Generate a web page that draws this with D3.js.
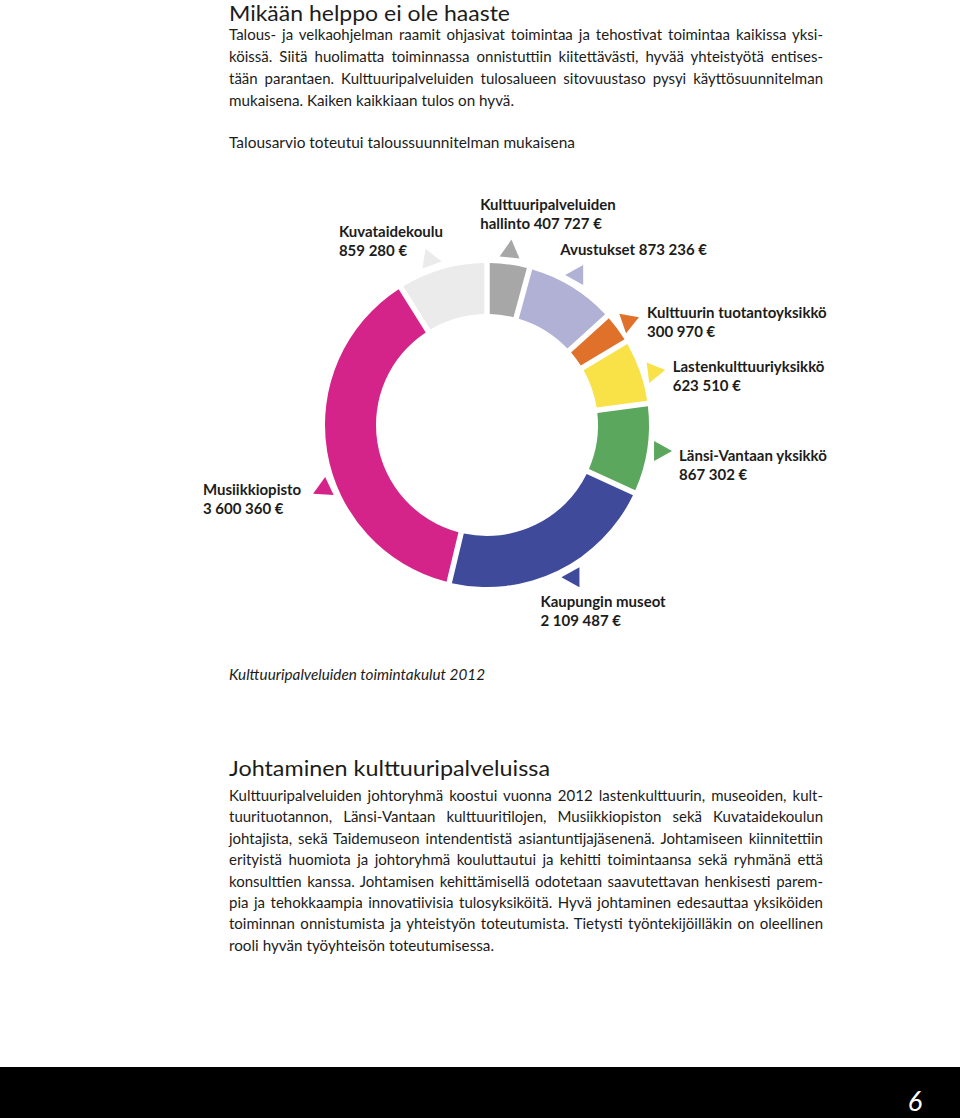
<!DOCTYPE html>
<html><head><meta charset="utf-8">
<script src="https://cdn.jsdelivr.net/npm/d3@7"></script>
<style>body{margin:0;background:#fff} svg{display:block}</style>
</head><body>
<script>
// ---------- DATA ----------
const categories = ["Kulttuuripalveluiden hallinto","Avustukset","Kulttuurin tuotantoyksikkö","Lastenkulttuuriyksikkö","Länsi-Vantaan yksikkö","Kaupungin museot","Musiikkiopisto","Kuvataidekoulu"];
const values = [407727, 873236, 300970, 623510, 867302, 2109487, 3600360, 859280];
const colors = ["#a7a7a7","#b1b1d6","#e0712a","#f9e148","#5ba75d","#3f4a9a","#d4248a","#ebebeb"];
const labelTemplates = [
  ["Kulttuuripalveluiden","hallinto {v}"],
  ["Avustukset {v}"],
  ["Kulttuurin tuotantoyksikkö","{v}"],
  ["Lastenkulttuuriyksikkö","{v}"],
  ["Länsi-Vantaan yksikkö","{v}"],
  ["Kaupungin museot","{v}"],
  ["Musiikkiopisto","{v}"],
  ["Kuvataidekoulu","{v}"]
];
const title = "Mikään helppo ei ole haaste";
const para1 = [
  "Talous- ja velkaohjelman raamit ohjasivat toimintaa ja tehostivat toimintaa kaikissa yksi-",
  "köissä. Siitä huolimatta toiminnassa onnistuttiin kiitettävästi, hyvää yhteistyötä entises-",
  "tään parantaen. Kulttuuripalveluiden tulosalueen sitovuustaso pysyi käyttösuunnitelman",
  "mukaisena. Kaiken kaikkiaan tulos on hyvä."
];
const subtitle = "Talousarvio toteutui taloussuunnitelman mukaisena";
const caption = "Kulttuuripalveluiden toimintakulut 2012";
const heading2 = "Johtaminen kulttuuripalveluissa";
const para2 = [
  "Kulttuuripalveluiden johtoryhmä koostui vuonna 2012 lastenkulttuurin, museoiden, kult-",
  "tuurituotannon, Länsi-Vantaan kulttuuritilojen, Musiikkiopiston sekä Kuvataidekoulun",
  "johtajista, sekä Taidemuseon intendentistä asiantuntijajäsenenä. Johtamiseen kiinnitettiin",
  "erityistä huomiota ja johtoryhmä kouluttautui ja kehitti toimintaansa sekä ryhmänä että",
  "konsulttien kanssa. Johtamisen kehittämisellä odotetaan saavutettavan henkisesti parem-",
  "pia ja tehokkaampia innovatiivisia tulosyksiköitä. Hyvä johtaminen edesauttaa yksiköiden",
  "toiminnan onnistumista ja yhteistyön toteutumista. Tietysti työntekijöilläkin on oleellinen",
  "rooli hyvän työyhteisön toteutumisessa."
];
const pageNumber = "6";

// ---------- LAYOUT ----------
const W = 960, H = 1118;
const FONT = "Lato, 'Noto Sans', sans-serif";
const INK = "#1c1c1b";
const left = 229, right = 823;

const svg = d3.select("body").append("svg").attr("width", W).attr("height", H);

function textLine(g, str, x, y, o) {
  const t = g.append("text").attr("x", x).attr("y", y).text(str)
    .attr("font-family", FONT).attr("font-size", o.size)
    .attr("font-weight", o.weight || 400).attr("font-style", o.style || "normal")
    .attr("fill", o.fill || INK).attr("text-anchor", o.anchor || "start");
  if (o.width) {
    const w = t.node().getComputedTextLength();
    const n = (str.match(/ /g) || []).length;
    if (o.justify && w < o.width && n > 0) {
      t.style("word-spacing", ((o.width - w) / n) + "px");
    } else {
      t.attr("textLength", o.width).attr("lengthAdjust", "spacingAndGlyphs");
    }
  }
  return t;
}

const txt = svg.append("g");
textLine(txt, title, left, 21, {size: 21.5, width: 281});
para1.forEach((s, i) => {
  const last = i === para1.length - 1;
  textLine(txt, s, left, 40 + i * 21.9, {size: 15, width: last ? 285 : right - left, justify: !last});
});
textLine(txt, subtitle, left, 148, {size: 15, width: 346});
textLine(txt, caption, left, 680, {size: 15, style: "italic", width: 256});
textLine(txt, heading2, left, 776, {size: 22, width: 321});
para2.forEach((s, i) => {
  const last = i === para2.length - 1;
  textLine(txt, s, left, 801 + i * 21.4, {size: 15, width: last ? 265 : right - left, justify: !last});
});

// footer band
svg.append("rect").attr("x", 0).attr("y", 1067).attr("width", W).attr("height", H - 1067).attr("fill", "#000");
textLine(svg, pageNumber, 915, 1111, {size: 27, style: "italic", fill: "#fff", anchor: "middle"});

// ---------- DONUT ----------
const cx = 487, cy = 425, R = 162, r0 = 111, triR = 175;
const rows = categories.map((c, i) => ({name: c, value: values[i], color: colors[i], label: labelTemplates[i]}));
const pie = d3.pie().sort(null).value(d => d.value).startAngle(0).endAngle(2 * Math.PI);
const arcs = pie(rows);
const arc = d3.arc().innerRadius(r0).outerRadius(R).padAngle(0.034).padRadius(R);

const fmt = d3.formatLocale({decimal: ",", thousands: "\u00a0", grouping: [3], currency: ["", "\u00a0€"]}).format("$,");

const chart = svg.append("g").attr("transform", `translate(${cx},${cy})`);
chart.selectAll("path.seg").data(arcs).join("path")
  .attr("class", "seg").attr("d", arc).attr("fill", d => d.data.color);

// pointer triangles + labels (layout per segment: angle offset, apex direction, label offset)
const pointerLayout = [
  {da: 0,    dir: -84, lx: -30,  ly: -42},
  {da: -0.5, dir: 180, lx: -17,  ly: -20},
  {da: 0.3,  dir: 100, lx: 19,   ly: -4},
  {da: 1.6,  dir: 112, lx: 19,   ly: 0},
  {da: 0,    dir: 0,   lx: 19,   ly: 10},
  {da: -3.7, dir: 180, lx: -33,  ly: 30},
  {da: -12,  dir: 155, lx: -121, ly: 6},
  {da: -3,   dir: 9,   lx: -91,  ly: -23}
];
const triPath = "M12,0L-6,-10L-6,10Z";
arcs.forEach((a, i) => {
  const L = pointerLayout[i];
  const ang = (a.startAngle + a.endAngle) / 2 + L.da * Math.PI / 180;
  const tx = triR * Math.sin(ang), ty = -triR * Math.cos(ang);
  chart.append("path").attr("d", triPath)
    .attr("transform", `translate(${tx},${ty}) rotate(${L.dir})`)
    .attr("fill", a.data.color);
  a.data.label.forEach((ln, j) => {
    textLine(chart, ln.replace("{v}", fmt(a.data.value)), tx + L.lx, ty + L.ly + j * 19,
      {size: 15, weight: 700});
  });
});
</script>
</body></html>
